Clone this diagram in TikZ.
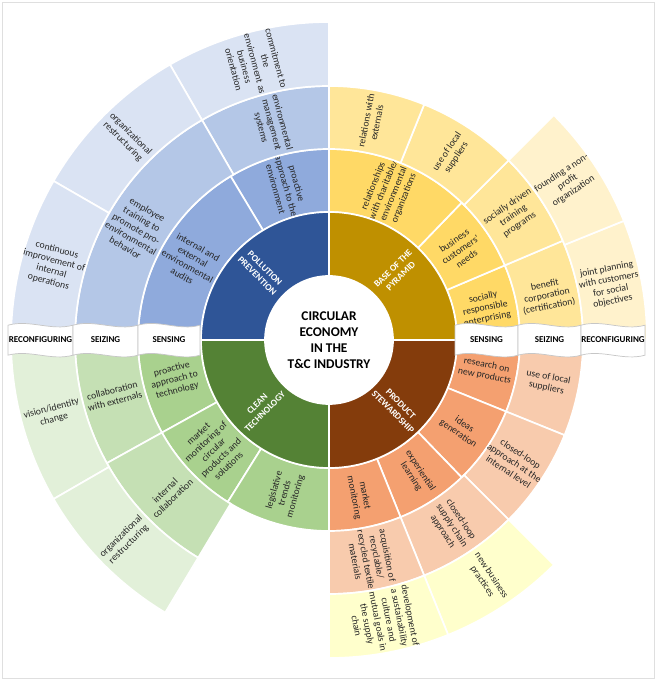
\documentclass[tikz,border=0pt]{standalone}
\usepackage{fontspec}
\setmainfont{Carlito}
\usepackage{tikz}
\usetikzlibrary{calc}

\definecolor{ppD}{HTML}{2F5597}
\definecolor{ppS}{HTML}{8FAADC}
\definecolor{ppZ}{HTML}{B4C7E7}
\definecolor{ppR}{HTML}{DAE3F3}
\definecolor{bpD}{HTML}{BF9000}
\definecolor{bpS}{HTML}{FFD966}
\definecolor{bpZ}{HTML}{FFE699}
\definecolor{bpR}{HTML}{FFF2CC}
\definecolor{psD}{HTML}{843C0C}
\definecolor{psS}{HTML}{F4A070}
\definecolor{psZ}{HTML}{F8CBAD}
\definecolor{psR}{HTML}{FFFFCC}
\definecolor{ctD}{HTML}{548235}
\definecolor{ctS}{HTML}{A9D18E}
\definecolor{ctZ}{HTML}{C5E0B4}
\definecolor{ctR}{HTML}{E2F0D9}
\definecolor{txt}{HTML}{262626}

% ring sector: start, end, inner radius, outer radius, colour, name, text
\newcommand{\ringseg}[7]{%
  \fill[#5, draw=white, line width=1.2pt] (#1:#3) arc (#1:#2:#3) -- (#2:#4) arc (#2:#1:#4) -- cycle;
  \pgfmathsetmacro\segmid{(#1+#2)/2}
  \pgfmathsetmacro\segrot{(\segmid>90 || \segmid<-90) ? \segmid-180 : \segmid}
  \node[SegText, rotate=\segrot] (#6) at (\segmid:{(#3+#4)/2}) {#7};
}
% wavy label cell of the strip: left x, right x, name, text
\newcommand{\stripcell}[4]{%
  \path[fill=white, draw=gray!45, line width=0.5pt]
    (#1,8.12) .. controls ({#1+(#2-#1)/3},8.27) and ({#1+2*(#2-#1)/3},7.97) .. (#2,8.12)
    -- (#2,8.87) .. controls ({#1+2*(#2-#1)/3},8.72) and ({#1+(#2-#1)/3},9.02) .. (#1,8.87) -- cycle;
  \node[StripText] (#3) at ({(#1+#2)/2},8.52) {#4};
}

\begin{document}
\begin{tikzpicture}
  \tikzset{SegText/.style = {align=center, text=txt, inner sep=0pt,
      font=\fontsize{6.9}{7.8}\selectfont},
    QuadText/.style = {align=center, text=white, font=\fontsize{6.6}{7.8}\selectfont\bfseries},
    StripText/.style = {text=black, font=\fontsize{6.4}{7.4}\selectfont\bfseries}}
  \useasboundingbox (0,0) rectangle (16.4,17);
  \draw[gray!25] (0.05,0.05) rectangle (16.35,16.95);

  \begin{scope}[shift={(8.225,8.5)}]
    % pollution prevention
    \ringseg{90}{121}{3.2}{4.775}{ppS}{pp1}{proactive\\approach to the\\environment}
    \ringseg{121}{180}{3.2}{4.775}{ppS}{pp2}{internal and\\external\\environmental\\audits}
    \ringseg{90}{120}{4.775}{6.35}{ppZ}{pp3}{environmental\\management\\systems}
    \ringseg{120}{180}{4.775}{6.35}{ppZ}{pp4}{employee\\training to\\promote pro-\\environmental\\behavior}
    \ringseg{90}{120}{6.35}{7.95}{ppR}{pp5}{commitment to\\the\\environment as\\business\\orientation}
    \ringseg{120}{150}{6.35}{7.95}{ppR}{pp6}{organizational\\restructuring}
    \ringseg{150}{180}{6.35}{7.95}{ppR}{pp7}{continuous\\improvement of\\internal\\operations}
    % base of the pyramid
    \ringseg{0}{23}{3.2}{4.775}{bpS}{bp1}{socially\\responsible\\enterprising}
    \ringseg{23}{46}{3.2}{4.775}{bpS}{bp2}{business\\customers'\\needs}
    \ringseg{46}{90}{3.2}{4.775}{bpS}{bp3}{relationships\\with charitable/\\environmental\\organizations}
    \ringseg{0}{23}{4.775}{6.35}{bpZ}{bp4}{benefit\\corporation\\(certification)}
    \ringseg{23}{45}{4.775}{6.35}{bpZ}{bp5}{socially driven\\training\\programs}
    \ringseg{45}{68}{4.775}{6.35}{bpZ}{bp6}{use of local\\suppliers}
    \ringseg{68}{90}{4.775}{6.35}{bpZ}{bp7}{relations with\\externals}
    \ringseg{0}{22}{6.35}{7.95}{bpR}{bp8}{joint planning\\with customers\\for social\\objectives}
    \ringseg{22}{45}{6.35}{7.95}{bpR}{bp9}{founding a non-\\profit\\organization}
    % product stewardship
    \ringseg{-22}{0}{3.2}{4.775}{psS}{ps1}{research on\\new products}
    \ringseg{-46}{-22}{3.2}{4.775}{psS}{ps2}{ideas\\generation}
    \ringseg{-68}{-46}{3.2}{4.775}{psS}{ps3}{experiential\\learning}
    \ringseg{-90}{-68}{3.2}{4.775}{psS}{ps4}{market\\monitoring}
    \ringseg{-22}{0}{4.775}{6.35}{psZ}{ps5}{use of local\\suppliers}
    \ringseg{-45}{-22}{4.775}{6.35}{psZ}{ps6}{closed-loop\\approach at the\\internal level}
    \ringseg{-68}{-45}{4.775}{6.35}{psZ}{ps7}{closed-loop\\supply chain\\approach}
    \ringseg{-90}{-68}{4.775}{6.35}{psZ}{ps8}{acquisition of\\recyclable/\\recycled textile\\materials}
    \ringseg{-68}{-45}{6.35}{7.95}{psR}{ps9}{new business\\practices}
    \ringseg{-90}{-68}{6.35}{7.95}{psR}{ps10}{development of\\a sustainability\\culture and\\mutual goals in\\the supply\\chain}
    % clean technology
    \ringseg{180}{209}{3.2}{4.775}{ctS}{ct1}{proactive\\approach to\\technology}
    \ringseg{209}{238}{3.2}{4.775}{ctS}{ct2}{market\\monitoring of\\circular\\products and\\solutions}
    \ringseg{238}{270}{3.2}{4.775}{ctS}{ct3}{legislative\\trends\\monitoring}
    \ringseg{180}{209}{4.775}{6.35}{ctZ}{ct4}{collaboration\\with externals}
    \ringseg{209}{239}{4.775}{6.35}{ctZ}{ct5}{internal\\collaboration}
    \ringseg{180}{210}{6.35}{7.95}{ctR}{ct6}{vision/identity\\change}
    \ringseg{210}{239}{6.35}{7.95}{ctR}{ct7}{organizational\\restructuring}

    % inner quadrants
    \foreach \a/\b/\c in {90/180/ppD, 0/90/bpD, -90/0/psD, 180/270/ctD}
      \fill[\c, draw=white, line width=1.2pt] (\a:1.6) arc (\a:\b:1.6) -- (\b:3.2) arc (\b:\a:3.2) -- cycle;
    \node[QuadText, rotate=-45] (pp) at (135:2.4) {POLLUTION\\PREVENTION};
    \node[QuadText, rotate=45] (bp) at (45:2.4) {BASE OF THE\\PYRAMID};
    \node[QuadText, rotate=-45] (ps) at (-45:2.4) {PRODUCT\\STEWARDSHIP};
    \node[QuadText, rotate=45] (ct) at (225:2.4) {CLEAN\\TECHNOLOGY};
    \fill[white] (0,0) circle (1.6);
    \node[align=center, font=\fontsize{9.5}{11.5}\selectfont\bfseries] (ce) at (0,0)
      {CIRCULAR\\ECONOMY\\IN THE\\T\&C INDUSTRY};
  \end{scope}

  % strip with capability labels
  \stripcell{0.2}{1.825}{lrc}{RECONFIGURING}
  \stripcell{1.825}{3.45}{lsz}{SEIZING}
  \stripcell{3.45}{5.0}{lsn}{SENSING}
  \stripcell{11.375}{12.95}{rsn}{SENSING}
  \stripcell{12.95}{14.525}{rsz}{SEIZING}
  \stripcell{14.525}{16.125}{rrc}{RECONFIGURING}
\end{tikzpicture}
\end{document}
